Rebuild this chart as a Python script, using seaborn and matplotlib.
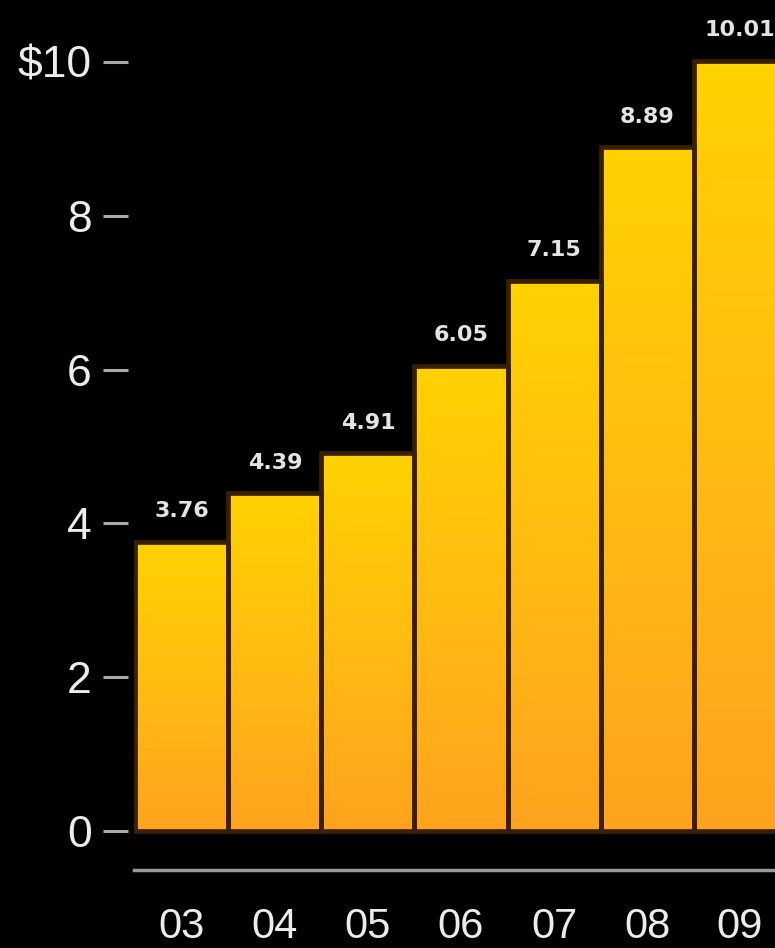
import numpy as np
import pandas as pd
import matplotlib
matplotlib.use("Agg")
import matplotlib.pyplot as plt
import seaborn as sns
from matplotlib.colors import LinearSegmentedColormap

# Annual figures (fiscal years, $ billions)
years = ["03", "04", "05", "06", "07", "08", "09"]
revenue = [3.76, 4.39, 4.91, 6.05, 7.15, 8.89, 10.01]
y_ticks = [0, 2, 4, 6, 8, 10]
y_tick_labels = ["0", "2", "4", "6", "8", "$10"]

sns.set_theme(style="dark", rc={"axes.facecolor": "black", "figure.facecolor": "black",
                                "axes.grid": False})
plt.rcParams["font.family"] = ["Liberation Sans", "DejaVu Sans"]

fig = plt.figure(figsize=(7.75, 9.48), dpi=100, facecolor="black")
ax = fig.add_axes([0.1724, 0.0823, 0.8276, 0.9177])
ax.set_facecolor("black")

df = pd.DataFrame({"year": years, "revenue": revenue})
sns.barplot(data=df, x="year", y="revenue", ax=ax, width=1.0, color="#FFC000",
            saturation=1, edgecolor="#3a2000", linewidth=3.4)

# vertical gold-to-orange gradient inside each bar
grad = LinearSegmentedColormap.from_list("gold", ["#FFA31E", "#FFBC12", "#FFD200"])
ramp = np.linspace(0, 1, 256).reshape(-1, 1)
for p in list(ax.patches):
    x0, y0, w, h = p.get_x(), p.get_y(), p.get_width(), p.get_height()
    im = ax.imshow(ramp, cmap=grad, origin="lower", extent=[x0, x0 + w, y0, y0 + h],
                   aspect="auto", interpolation="bilinear", zorder=p.get_zorder() - 0.1)
    im.set_clip_path(p)
    p.set_facecolor("none")

ax.bar_label(ax.containers[0], labels=[f"{v:.2f}" for v in revenue], padding=15,
             color="#e4e4e4", fontsize=16, fontweight="bold", family="DejaVu Sans")

ax.set_xlim(-0.52, 6.376)
ax.set_ylim(-0.507, 10.806)
ax.set_xlabel("")
ax.set_ylabel("")

ax.set_yticks(y_ticks, y_tick_labels)
ax.tick_params(axis="y", direction="out", length=18, width=2.2, color="#aaaaaa",
               pad=8, labelsize=32, labelcolor="#ececec", left=True)
ax.tick_params(axis="x", length=0, pad=27, labelsize=30, labelcolor="#ececec")

for side in ("top", "right", "left"):
    ax.spines[side].set_visible(False)
ax.spines["left"].set_position(("outward", 4))
ax.spines["bottom"].set_color("#9a9a9a")
ax.spines["bottom"].set_linewidth(2.5)

fig.savefig("out.png", dpi=100, facecolor="black")
